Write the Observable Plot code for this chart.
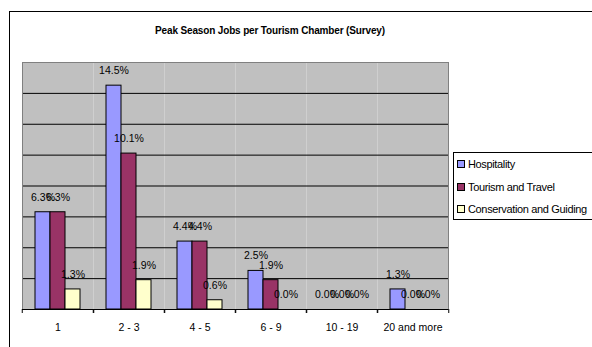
<!DOCTYPE html>
<html><head><meta charset="utf-8">
<script src="https://cdn.jsdelivr.net/npm/d3@7"></script>
<script src="https://cdn.jsdelivr.net/npm/@observablehq/plot@0.6"></script>
<style>
body{margin:0;overflow:hidden;background:#fff;font-family:"Liberation Sans",Arial,sans-serif}
#wrap{position:relative;width:592px;height:347px;overflow:hidden}
#frame{position:absolute;left:9px;top:11px;width:700px;height:400px;border-left:1px solid #000;border-top:1px solid #000}
#title{position:absolute;left:9px;width:522px;top:25px;text-align:center;font-weight:bold;font-size:10px;letter-spacing:-0.15px}
#legend{position:absolute;left:453px;top:152px;width:170px;height:66px;border:1px solid #000;background:#fff;font-size:11px;letter-spacing:-0.35px}
.item{position:absolute;left:3px;height:14px;line-height:14px;white-space:nowrap}
.sw{display:inline-block;width:6px;height:6px;border:1px solid #000;margin-right:3px;vertical-align:0px}
#chart{position:absolute;left:0;top:0}
</style></head>
<body><div id="wrap"><div id="frame"></div><div id="chart"></div><div id="title"></div><div id="legend"></div></div>
<script>
const categories = ["1", "2 - 3", "4 - 5", "6 - 9", "10 - 19", "20 and more"];
const seriesNames = ["Hospitality", "Tourism and Travel", "Conservation and Guiding"];
const hospitality = [6.3, 14.5, 4.4, 2.5, 0.0, 1.3];
const tourismTravel = [6.3, 10.1, 4.4, 1.9, 0.0, 0.0];
const conservation = [1.3, 1.9, 0.6, 0.0, 0.0, 0.0];
const gridTicks = [2, 4, 6, 8, 10, 12, 14];
const colors = ["#9999ff", "#993366", "#ffffcc"];
const titleText = "Peak Season Jobs per Tourism Chamber (Survey)";

const seriesValues = [hospitality, tourismTravel, conservation];
const data = [];
categories.forEach((c, i) => seriesNames.forEach((s, j) => data.push({category: c, series: s, value: seriesValues[j][i]})));

const W = 592, H = 347, mL = 20, mR = 143, mT = 62, mB = 38;
const bw = (W - mL - mR) / categories.length;

const chart = Plot.plot({
  width: W, height: H,
  marginLeft: mL, marginRight: mR, marginTop: mT, marginBottom: mB,
  style: {fontFamily: "Liberation Sans, Arial, sans-serif", fontSize: "10.5px", background: "transparent", color: "#000"},
  fx: {domain: categories, padding: 0, label: null, axis: null},
  x: {domain: seriesNames, paddingInner: 0, paddingOuter: 0.734, axis: null},
  y: {domain: [0, 16], axis: null},
  color: {domain: seriesNames, range: colors},
  marks: [
    Plot.frame({fill: "#c0c0c0", stroke: null}),
    Plot.gridY(gridTicks, {stroke: "#000", strokeOpacity: 1}),
    Plot.barY(data.filter(d => d.value > 0), {fx: "category", x: "series", y: "value", fill: "series", stroke: "#000", strokeWidth: 1}),
    Plot.text(data, {fx: "category", x: "series", y: "value", text: d => d.value.toFixed(1) + "%", dy: -15, fontSize: 10.5, letterSpacing: "-0.3px"}),
    Plot.frame({facet: "super", stroke: "#808080", fill: "none"}),
    Plot.ruleY([0], {stroke: "#000"}),
    Plot.axisFx({anchor: "bottom", tickSize: 0, tickPadding: 14, label: null, fontSize: 10.5}),
    Plot.axisFx({anchor: "bottom", tickSize: 4, text: null, label: null, dx: -bw / 2}),
    Plot.axisFx([categories[categories.length - 1]], {anchor: "bottom", tickSize: 4, text: null, label: null, dx: bw / 2})
  ]
});
document.getElementById("chart").append(chart);
document.getElementById("title").textContent = titleText;

const legend = document.getElementById("legend");
seriesNames.forEach((s, j) => {
  const it = document.createElement("div");
  it.className = "item";
  it.style.top = (4 + j * 22.5) + "px";
  const sw = document.createElement("span");
  sw.className = "sw";
  sw.style.background = colors[j];
  it.append(sw, document.createTextNode(s));
  legend.append(it);
});
</script></body></html>
